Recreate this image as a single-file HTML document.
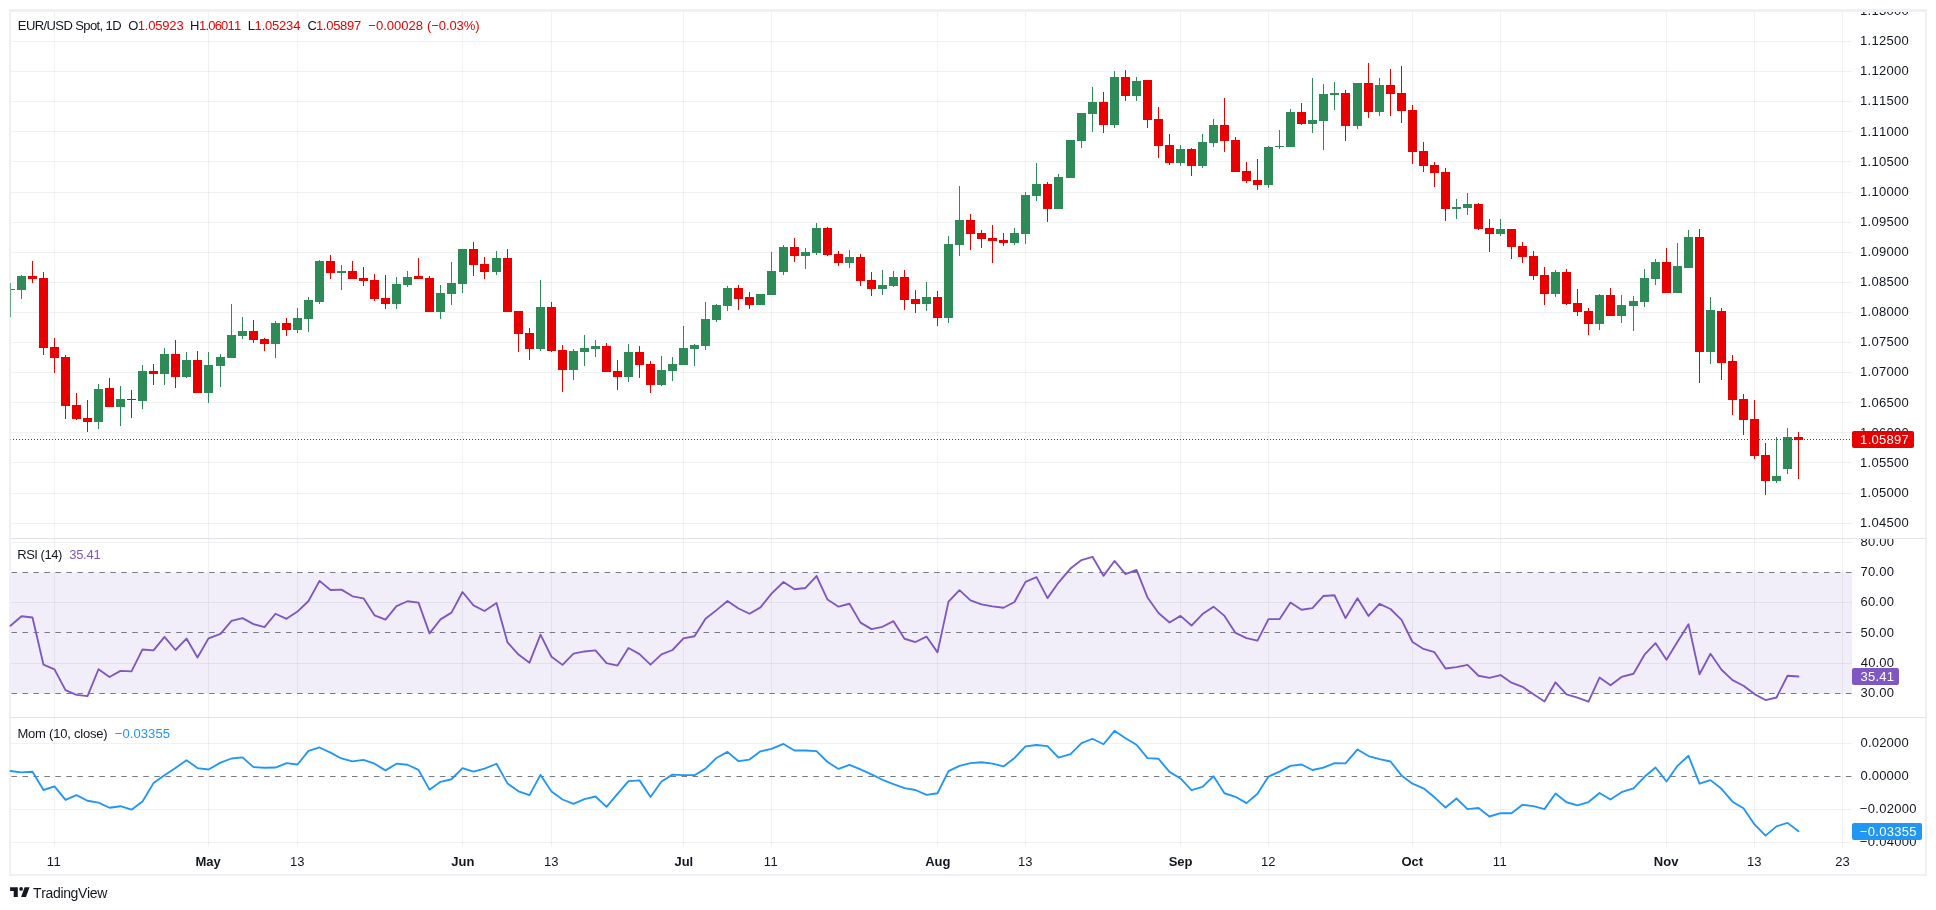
<!DOCTYPE html>
<html><head><meta charset="utf-8"><title>EUR/USD</title>
<style>html,body{margin:0;padding:0;background:#fff;}body{width:1936px;height:910px;overflow:hidden;}svg{display:block;will-change:transform;font-family:"Liberation Sans",sans-serif;font-kerning:none;}text{white-space:pre;}</style>
</head><body>
<svg width="1936" height="910" viewBox="0 0 1936 910">
<defs>
<clipPath id="cm"><rect x="1852" y="12" width="73" height="526"/></clipPath>
<clipPath id="cr"><rect x="1852" y="539" width="73" height="178"/></clipPath>
<clipPath id="co"><rect x="1852" y="718" width="73" height="128"/></clipPath>
</defs>
<rect width="1936" height="910" fill="#ffffff"/>
<rect x="11" y="572.5" width="1841" height="121" fill="#f1eef9"/>
<path d="M54.5 10V846.5M208.5 10V846.5M297.5 10V846.5M462.5 10V846.5M551.5 10V846.5M683.5 10V846.5M771.5 10V846.5M937.5 10V846.5M1025.5 10V846.5M1180.5 10V846.5M1268.5 10V846.5M1412.5 10V846.5M1500.5 10V846.5M1666.5 10V846.5M1754.5 10V846.5M1842.5 10V846.5" stroke="#2a2e39" stroke-opacity="0.065" stroke-width="1" fill="none" shape-rendering="crispEdges"/>
<path d="M11 41.5H1852M11 71.5H1852M11 101.5H1852M11 131.5H1852M11 161.5H1852M11 192.5H1852M11 222.5H1852M11 252.5H1852M11 282.5H1852M11 312.5H1852M11 342.5H1852M11 372.5H1852M11 402.5H1852M11 432.5H1852M11 462.5H1852M11 493.5H1852M11 523.5H1852M11 542.5H1852M11 602.5H1852M11 663.5H1852M11 743.5H1852M11 809.5H1852M11 842.5H1852" stroke="#2a2e39" stroke-opacity="0.065" stroke-width="1" fill="none" shape-rendering="crispEdges"/>
<path d="M11 538.5H1925M11 717.5H1925" stroke="#e0e3eb" stroke-width="1" fill="none" shape-rendering="crispEdges"/>
<path d="M11.45 572.5H1852" stroke="#787b86" stroke-width="1" stroke-dasharray="5.5 5.485" fill="none"/>
<path d="M10 572.5H11" stroke="#787b86" stroke-width="1" fill="none"/>
<path d="M11.45 632.5H1852" stroke="#787b86" stroke-width="1" stroke-dasharray="5.5 5.485" fill="none"/>
<path d="M10 632.5H11" stroke="#787b86" stroke-width="1" fill="none"/>
<path d="M11.45 693.5H1852" stroke="#787b86" stroke-width="1" stroke-dasharray="5.5 5.485" fill="none"/>
<path d="M10 693.5H11" stroke="#787b86" stroke-width="1" fill="none"/>
<path d="M11.45 776.5H1852" stroke="#787b86" stroke-width="1" stroke-dasharray="5.5 5.485" fill="none"/>
<path d="M10 776.5H11" stroke="#787b86" stroke-width="1" fill="none"/>
<path d="M9 9H1927V876H9Z M11 12H1925V874H11Z" fill="#eef0f5" fill-rule="evenodd"/>
<rect x="10" y="283" width="1" height="34" fill="#2e8b57" fill-opacity="0.7"/>
<path d="M11 289H15.0V290H11ZM17.0 276H26.0V290H17.0ZM21.0 275H22.0V276H21.0ZM21.0 290H22.0V299H21.0ZM94.0 389H103.0V422H94.0ZM98.0 384H99.0V389H98.0ZM98.0 422H99.0V429H98.0ZM116.0 399H125.0V407H116.0ZM120.0 386H121.0V399H120.0ZM120.0 407H121.0V426H120.0ZM138.0 371H147.0V401H138.0ZM142.0 365H143.0V371H142.0ZM142.0 401H143.0V409H142.0ZM160.0 354H169.0V374H160.0ZM164.0 348H165.0V354H164.0ZM164.0 374H165.0V385H164.0ZM182.0 360H191.0V377H182.0ZM186.0 352H187.0V360H186.0ZM186.0 377H187.0V378H186.0ZM204.0 365H213.0V393H204.0ZM208.0 352H209.0V365H208.0ZM208.0 393H209.0V403H208.0ZM216.0 357H225.0V366H216.0ZM220.0 354H221.0V357H220.0ZM220.0 366H221.0V387H220.0ZM227.0 335H236.0V358H227.0ZM231.0 304H232.0V335H231.0ZM238.0 331H247.0V336H238.0ZM242.0 317H243.0V331H242.0ZM242.0 336H243.0V339H242.0ZM271.0 323H280.0V344H271.0ZM275.0 321H276.0V323H275.0ZM275.0 344H276.0V358H275.0ZM293.0 318H302.0V330H293.0ZM297.0 308H298.0V318H297.0ZM297.0 330H298.0V333H297.0ZM304.0 300H313.0V319H304.0ZM308.0 297H309.0V300H308.0ZM308.0 319H309.0V332H308.0ZM315.0 261H324.0V302H315.0ZM319.0 260H320.0V261H319.0ZM319.0 302H320.0V304H319.0ZM337.0 271H346.0V273H337.0ZM341.0 265H342.0V271H341.0ZM341.0 273H342.0V290H341.0ZM392.0 284H401.0V304H392.0ZM396.0 277H397.0V284H396.0ZM396.0 304H397.0V309H396.0ZM403.0 277H412.0V285H403.0ZM407.0 271H408.0V277H407.0ZM407.0 285H408.0V287H407.0ZM436.0 293H445.0V312H436.0ZM440.0 285H441.0V293H440.0ZM440.0 312H441.0V319H440.0ZM447.0 283H456.0V294H447.0ZM451.0 262H452.0V283H451.0ZM451.0 294H452.0V305H451.0ZM458.0 249H467.0V284H458.0ZM462.0 284H463.0V293H462.0ZM492.0 258H501.0V272H492.0ZM496.0 251H497.0V258H496.0ZM496.0 272H497.0V275H496.0ZM536.0 307H545.0V349H536.0ZM540.0 280H541.0V307H540.0ZM540.0 349H541.0V351H540.0ZM569.0 351H578.0V370H569.0ZM573.0 349H574.0V351H573.0ZM573.0 370H574.0V380H573.0ZM580.0 348H589.0V352H580.0ZM584.0 335H585.0V348H584.0ZM584.0 352H585.0V366H584.0ZM591.0 346H600.0V349H591.0ZM595.0 340H596.0V346H595.0ZM595.0 349H596.0V357H595.0ZM624.0 352H633.0V377H624.0ZM628.0 344H629.0V352H628.0ZM628.0 377H629.0V382H628.0ZM657.0 370H666.0V385H657.0ZM661.0 356H662.0V370H661.0ZM661.0 385H662.0V386H661.0ZM668.0 364H677.0V371H668.0ZM672.0 357H673.0V364H672.0ZM672.0 371H673.0V381H672.0ZM679.0 348H688.0V365H679.0ZM683.0 326H684.0V348H683.0ZM690.0 345H699.0V349H690.0ZM694.0 344H695.0V345H694.0ZM694.0 349H695.0V366H694.0ZM701.0 319H710.0V346H701.0ZM705.0 302H706.0V319H705.0ZM705.0 346H706.0V350H705.0ZM712.0 305H721.0V320H712.0ZM716.0 304H717.0V305H716.0ZM716.0 320H717.0V322H716.0ZM723.0 288H732.0V306H723.0ZM727.0 286H728.0V288H727.0ZM727.0 306H728.0V311H727.0ZM756.0 294H765.0V305H756.0ZM767.0 271H776.0V295H767.0ZM771.0 252H772.0V271H771.0ZM779.0 247H788.0V272H779.0ZM783.0 245H784.0V247H783.0ZM783.0 272H784.0V275H783.0ZM801.0 252H810.0V256H801.0ZM805.0 248H806.0V252H805.0ZM805.0 256H806.0V269H805.0ZM812.0 228H821.0V253H812.0ZM816.0 223H817.0V228H816.0ZM816.0 253H817.0V255H816.0ZM845.0 257H854.0V263H845.0ZM849.0 250H850.0V257H849.0ZM849.0 263H850.0V268H849.0ZM878.0 285H887.0V289H878.0ZM882.0 270H883.0V285H882.0ZM882.0 289H883.0V295H882.0ZM889.0 277H898.0V286H889.0ZM893.0 271H894.0V277H893.0ZM893.0 286H894.0V287H893.0ZM922.0 297H931.0V304H922.0ZM926.0 282H927.0V297H926.0ZM926.0 304H927.0V311H926.0ZM944.0 244H953.0V318H944.0ZM948.0 236H949.0V244H948.0ZM948.0 318H949.0V323H948.0ZM955.0 220H964.0V245H955.0ZM959.0 186H960.0V220H959.0ZM959.0 245H960.0V256H959.0ZM1010.0 233H1019.0V243H1010.0ZM1014.0 228H1015.0V233H1014.0ZM1014.0 243H1015.0V245H1014.0ZM1021.0 195H1030.0V234H1021.0ZM1025.0 192H1026.0V195H1025.0ZM1025.0 234H1026.0V244H1025.0ZM1032.0 184H1041.0V196H1032.0ZM1036.0 163H1037.0V184H1036.0ZM1036.0 196H1037.0V201H1036.0ZM1054.0 177H1063.0V209H1054.0ZM1058.0 174H1059.0V177H1058.0ZM1066.0 140H1075.0V178H1066.0ZM1077.0 113H1086.0V141H1077.0ZM1081.0 141H1082.0V148H1081.0ZM1088.0 102H1097.0V114H1088.0ZM1092.0 87H1093.0V102H1092.0ZM1092.0 114H1093.0V132H1092.0ZM1110.0 77H1119.0V125H1110.0ZM1114.0 71H1115.0V77H1114.0ZM1114.0 125H1115.0V128H1114.0ZM1132.0 81H1141.0V96H1132.0ZM1136.0 77H1137.0V81H1136.0ZM1136.0 96H1137.0V101H1136.0ZM1176.0 149H1185.0V163H1176.0ZM1180.0 145H1181.0V149H1180.0ZM1180.0 163H1181.0V166H1180.0ZM1198.0 142H1207.0V166H1198.0ZM1202.0 134H1203.0V142H1202.0ZM1202.0 166H1203.0V168H1202.0ZM1209.0 125H1218.0V143H1209.0ZM1213.0 119H1214.0V125H1213.0ZM1213.0 143H1214.0V147H1213.0ZM1264.0 147H1273.0V185H1264.0ZM1268.0 146H1269.0V147H1268.0ZM1268.0 185H1269.0V188H1268.0ZM1275.0 146H1284.0V147H1275.0ZM1279.0 130H1280.0V146H1279.0ZM1279.0 147H1280.0V149H1279.0ZM1286.0 112H1295.0V147H1286.0ZM1290.0 109H1291.0V112H1290.0ZM1308.0 120H1317.0V124H1308.0ZM1312.0 78H1313.0V120H1312.0ZM1312.0 124H1313.0V133H1312.0ZM1319.0 94H1328.0V121H1319.0ZM1323.0 84H1324.0V94H1323.0ZM1323.0 121H1324.0V150H1323.0ZM1330.0 93H1339.0V95H1330.0ZM1334.0 82H1335.0V93H1334.0ZM1334.0 95H1335.0V110H1334.0ZM1353.0 83H1362.0V126H1353.0ZM1357.0 126H1358.0V129H1357.0ZM1375.0 85H1384.0V112H1375.0ZM1379.0 78H1380.0V85H1379.0ZM1379.0 112H1380.0V116H1379.0ZM1452.0 207H1461.0V209H1452.0ZM1456.0 199H1457.0V207H1456.0ZM1456.0 209H1457.0V219H1456.0ZM1463.0 204H1472.0V208H1463.0ZM1467.0 193H1468.0V204H1467.0ZM1467.0 208H1468.0V215H1467.0ZM1496.0 229H1505.0V234H1496.0ZM1500.0 219H1501.0V229H1500.0ZM1500.0 234H1501.0V236H1500.0ZM1551.0 272H1560.0V294H1551.0ZM1555.0 270H1556.0V272H1555.0ZM1555.0 294H1556.0V297H1555.0ZM1595.0 295H1604.0V324H1595.0ZM1599.0 294H1600.0V295H1599.0ZM1599.0 324H1600.0V330H1599.0ZM1617.0 305H1626.0V316H1617.0ZM1621.0 295H1622.0V305H1621.0ZM1621.0 316H1622.0V323H1621.0ZM1629.0 301H1638.0V306H1629.0ZM1633.0 296H1634.0V301H1633.0ZM1633.0 306H1634.0V331H1633.0ZM1640.0 278H1649.0V302H1640.0ZM1644.0 269H1645.0V278H1644.0ZM1644.0 302H1645.0V307H1644.0ZM1651.0 262H1660.0V279H1651.0ZM1655.0 259H1656.0V262H1655.0ZM1655.0 279H1656.0V285H1655.0ZM1673.0 266H1682.0V293H1673.0ZM1677.0 243H1678.0V266H1677.0ZM1684.0 237H1693.0V268H1684.0ZM1688.0 230H1689.0V237H1688.0ZM1706.0 310H1715.0V352H1706.0ZM1710.0 297H1711.0V310H1710.0ZM1710.0 352H1711.0V364H1710.0ZM1772.0 476H1781.0V481H1772.0ZM1776.0 437H1777.0V476H1776.0ZM1776.0 481H1777.0V483H1776.0ZM1783.0 437H1792.0V469H1783.0ZM1787.0 428H1788.0V437H1787.0ZM1787.0 469H1788.0V474H1787.0Z" fill="#2e8b57" shape-rendering="crispEdges"/>
<path d="M28.0 276H37.0V279H28.0ZM32.0 261H33.0V276H32.0ZM32.0 279H33.0V283H32.0ZM39.0 278H48.0V348H39.0ZM43.0 272H44.0V278H43.0ZM43.0 348H44.0V355H43.0ZM50.0 347H59.0V358H50.0ZM54.0 338H55.0V347H54.0ZM54.0 358H55.0V373H54.0ZM61.0 357H70.0V406H61.0ZM65.0 355H66.0V357H65.0ZM65.0 406H66.0V419H65.0ZM72.0 405H81.0V419H72.0ZM76.0 393H77.0V405H76.0ZM76.0 419H77.0V420H76.0ZM83.0 418H92.0V422H83.0ZM87.0 400H88.0V418H87.0ZM87.0 422H88.0V432H87.0ZM105.0 388H114.0V407H105.0ZM109.0 378H110.0V388H109.0ZM127.0 399H136.0V400H127.0ZM131.0 390H132.0V399H131.0ZM131.0 400H132.0V418H131.0ZM149.0 371H158.0V374H149.0ZM153.0 364H154.0V371H153.0ZM153.0 374H154.0V385H153.0ZM171.0 354H180.0V377H171.0ZM175.0 340H176.0V354H175.0ZM175.0 377H176.0V388H175.0ZM193.0 360H202.0V393H193.0ZM197.0 351H198.0V360H197.0ZM249.0 331H258.0V340H249.0ZM253.0 320H254.0V331H253.0ZM253.0 340H254.0V343H253.0ZM260.0 339H269.0V344H260.0ZM264.0 338H265.0V339H264.0ZM264.0 344H265.0V351H264.0ZM282.0 323H291.0V330H282.0ZM286.0 318H287.0V323H286.0ZM286.0 330H287.0V336H286.0ZM326.0 261H335.0V273H326.0ZM330.0 255H331.0V261H330.0ZM330.0 273H331.0V279H330.0ZM348.0 271H357.0V279H348.0ZM352.0 261H353.0V271H352.0ZM359.0 278H368.0V281H359.0ZM363.0 267H364.0V278H363.0ZM363.0 281H364.0V286H363.0ZM370.0 280H379.0V299H370.0ZM374.0 274H375.0V280H374.0ZM374.0 299H375.0V301H374.0ZM381.0 298H390.0V304H381.0ZM385.0 275H386.0V298H385.0ZM385.0 304H386.0V309H385.0ZM414.0 276H423.0V279H414.0ZM418.0 258H419.0V276H418.0ZM425.0 278H434.0V312H425.0ZM429.0 276H430.0V278H429.0ZM469.0 249H478.0V265H469.0ZM473.0 242H474.0V249H473.0ZM473.0 265H474.0V276H473.0ZM480.0 264H489.0V272H480.0ZM484.0 257H485.0V264H484.0ZM484.0 272H485.0V279H484.0ZM503.0 258H512.0V312H503.0ZM507.0 249H508.0V258H507.0ZM514.0 311H523.0V334H514.0ZM518.0 334H519.0V352H518.0ZM525.0 333H534.0V349H525.0ZM529.0 328H530.0V333H529.0ZM529.0 349H530.0V360H529.0ZM547.0 307H556.0V351H547.0ZM551.0 302H552.0V307H551.0ZM551.0 351H552.0V352H551.0ZM558.0 350H567.0V370H558.0ZM562.0 345H563.0V350H562.0ZM562.0 370H563.0V392H562.0ZM602.0 346H611.0V372H602.0ZM606.0 343H607.0V346H606.0ZM613.0 371H622.0V377H613.0ZM617.0 360H618.0V371H617.0ZM617.0 377H618.0V390H617.0ZM635.0 352H644.0V365H635.0ZM639.0 346H640.0V352H639.0ZM639.0 365H640.0V378H639.0ZM646.0 364H655.0V385H646.0ZM650.0 361H651.0V364H650.0ZM650.0 385H651.0V393H650.0ZM734.0 288H743.0V299H734.0ZM738.0 285H739.0V288H738.0ZM738.0 299H739.0V310H738.0ZM745.0 297H754.0V305H745.0ZM749.0 292H750.0V297H749.0ZM749.0 305H750.0V309H749.0ZM790.0 247H799.0V256H790.0ZM794.0 238H795.0V247H794.0ZM794.0 256H795.0V262H794.0ZM823.0 228H832.0V255H823.0ZM827.0 227H828.0V228H827.0ZM827.0 255H828.0V256H827.0ZM834.0 254H843.0V263H834.0ZM838.0 251H839.0V254H838.0ZM838.0 263H839.0V266H838.0ZM856.0 257H865.0V281H856.0ZM860.0 254H861.0V257H860.0ZM860.0 281H861.0V286H860.0ZM867.0 280H876.0V289H867.0ZM871.0 272H872.0V280H871.0ZM871.0 289H872.0V296H871.0ZM900.0 277H909.0V300H900.0ZM904.0 270H905.0V277H904.0ZM904.0 300H905.0V310H904.0ZM911.0 299H920.0V304H911.0ZM915.0 290H916.0V299H915.0ZM915.0 304H916.0V313H915.0ZM933.0 297H942.0V318H933.0ZM937.0 291H938.0V297H937.0ZM937.0 318H938.0V326H937.0ZM966.0 220H975.0V234H966.0ZM970.0 214H971.0V220H970.0ZM970.0 234H971.0V250H970.0ZM977.0 233H986.0V239H977.0ZM981.0 230H982.0V233H981.0ZM981.0 239H982.0V248H981.0ZM988.0 238H997.0V241H988.0ZM992.0 225H993.0V238H992.0ZM992.0 241H993.0V263H992.0ZM999.0 240H1008.0V243H999.0ZM1003.0 233H1004.0V240H1003.0ZM1003.0 243H1004.0V246H1003.0ZM1043.0 184H1052.0V209H1043.0ZM1047.0 182H1048.0V184H1047.0ZM1047.0 209H1048.0V222H1047.0ZM1099.0 102H1108.0V125H1099.0ZM1103.0 92H1104.0V102H1103.0ZM1103.0 125H1104.0V133H1103.0ZM1121.0 77H1130.0V96H1121.0ZM1125.0 70H1126.0V77H1125.0ZM1125.0 96H1126.0V101H1125.0ZM1143.0 80H1152.0V120H1143.0ZM1147.0 120H1148.0V128H1147.0ZM1154.0 119H1163.0V146H1154.0ZM1158.0 107H1159.0V119H1158.0ZM1158.0 146H1159.0V158H1158.0ZM1165.0 145H1174.0V163H1165.0ZM1169.0 134H1170.0V145H1169.0ZM1169.0 163H1170.0V165H1169.0ZM1187.0 149H1196.0V166H1187.0ZM1191.0 148H1192.0V149H1191.0ZM1191.0 166H1192.0V176H1191.0ZM1220.0 125H1229.0V141H1220.0ZM1224.0 98H1225.0V125H1224.0ZM1224.0 141H1225.0V152H1224.0ZM1231.0 140H1240.0V172H1231.0ZM1235.0 137H1236.0V140H1235.0ZM1242.0 171H1251.0V181H1242.0ZM1246.0 162H1247.0V171H1246.0ZM1246.0 181H1247.0V183H1246.0ZM1253.0 180H1262.0V185H1253.0ZM1257.0 159H1258.0V180H1257.0ZM1257.0 185H1258.0V190H1257.0ZM1297.0 112H1306.0V124H1297.0ZM1301.0 103H1302.0V112H1301.0ZM1301.0 124H1302.0V125H1301.0ZM1341.0 93H1350.0V126H1341.0ZM1345.0 90H1346.0V93H1345.0ZM1345.0 126H1346.0V141H1345.0ZM1364.0 83H1373.0V112H1364.0ZM1368.0 63H1369.0V83H1368.0ZM1368.0 112H1369.0V118H1368.0ZM1386.0 85H1395.0V94H1386.0ZM1390.0 69H1391.0V85H1390.0ZM1390.0 94H1391.0V116H1390.0ZM1397.0 93H1406.0V111H1397.0ZM1401.0 66H1402.0V93H1401.0ZM1401.0 111H1402.0V123H1401.0ZM1408.0 110H1417.0V152H1408.0ZM1412.0 105H1413.0V110H1412.0ZM1412.0 152H1413.0V164H1412.0ZM1419.0 151H1428.0V166H1419.0ZM1423.0 142H1424.0V151H1423.0ZM1423.0 166H1424.0V172H1423.0ZM1430.0 165H1439.0V173H1430.0ZM1434.0 162H1435.0V165H1434.0ZM1434.0 173H1435.0V187H1434.0ZM1441.0 172H1450.0V209H1441.0ZM1445.0 168H1446.0V172H1445.0ZM1445.0 209H1446.0V221H1445.0ZM1474.0 204H1483.0V229H1474.0ZM1478.0 203H1479.0V204H1478.0ZM1478.0 229H1479.0V230H1478.0ZM1485.0 228H1494.0V234H1485.0ZM1489.0 219H1490.0V228H1489.0ZM1489.0 234H1490.0V252H1489.0ZM1507.0 229H1516.0V247H1507.0ZM1511.0 247H1512.0V259H1511.0ZM1518.0 246H1527.0V257H1518.0ZM1522.0 242H1523.0V246H1522.0ZM1522.0 257H1523.0V263H1522.0ZM1529.0 256H1538.0V276H1529.0ZM1533.0 251H1534.0V256H1533.0ZM1533.0 276H1534.0V280H1533.0ZM1540.0 275H1549.0V294H1540.0ZM1544.0 267H1545.0V275H1544.0ZM1544.0 294H1545.0V305H1544.0ZM1562.0 272H1571.0V304H1562.0ZM1566.0 269H1567.0V272H1566.0ZM1566.0 304H1567.0V305H1566.0ZM1573.0 303H1582.0V312H1573.0ZM1577.0 289H1578.0V303H1577.0ZM1577.0 312H1578.0V316H1577.0ZM1584.0 311H1593.0V324H1584.0ZM1588.0 308H1589.0V311H1588.0ZM1588.0 324H1589.0V335H1588.0ZM1606.0 295H1615.0V316H1606.0ZM1610.0 288H1611.0V295H1610.0ZM1662.0 262H1671.0V293H1662.0ZM1666.0 248H1667.0V262H1666.0ZM1695.0 237H1704.0V352H1695.0ZM1699.0 229H1700.0V237H1699.0ZM1699.0 352H1700.0V383H1699.0ZM1717.0 311H1726.0V363H1717.0ZM1721.0 308H1722.0V311H1721.0ZM1721.0 363H1722.0V380H1721.0ZM1728.0 361H1737.0V400H1728.0ZM1732.0 355H1733.0V361H1732.0ZM1732.0 400H1733.0V415H1732.0ZM1739.0 399H1748.0V420H1739.0ZM1743.0 394H1744.0V399H1743.0ZM1743.0 420H1744.0V435H1743.0ZM1750.0 419H1759.0V456H1750.0ZM1754.0 400H1755.0V419H1754.0ZM1754.0 456H1755.0V459H1754.0ZM1761.0 455H1770.0V481H1761.0ZM1765.0 443H1766.0V455H1765.0ZM1765.0 481H1766.0V495H1765.0ZM1794.0 437H1803.0V440H1794.0ZM1798.0 432H1799.0V437H1798.0ZM1798.0 440H1799.0V479H1798.0Z" fill="#e60000" shape-rendering="crispEdges"/>
<path d="M13 439.5H1852" stroke="#e60000" stroke-width="1" stroke-dasharray="1 2" fill="none" shape-rendering="crispEdges"/>
<rect x="10" y="439" width="1" height="1" fill="#e60000" fill-opacity="0.35"/>
<polyline points="10.5,625.70 21.5,616.27 32.5,617.54 43.5,664.70 54.5,669.41 65.5,690.09 76.5,694.80 87.5,696.07 98.5,669.23 109.5,677.03 120.5,670.86 131.5,671.41 142.5,649.46 153.5,650.37 164.5,636.95 175.5,650.01 186.5,638.58 197.5,657.44 208.5,638.40 220.5,633.86 231.5,620.81 242.5,618.09 253.5,624.07 264.5,627.15 275.5,613.73 286.5,618.81 297.5,611.56 308.5,601.04 319.5,580.91 330.5,589.98 341.5,589.61 352.5,596.32 363.5,598.32 374.5,615.37 385.5,619.54 396.5,606.12 407.5,601.22 418.5,602.67 429.5,633.32 440.5,619.36 451.5,612.65 462.5,591.97 473.5,605.39 484.5,611.01 496.5,603.03 507.5,642.39 518.5,654.54 529.5,662.70 540.5,634.59 551.5,656.72 562.5,664.88 573.5,653.63 584.5,651.46 595.5,650.37 606.5,663.06 617.5,665.60 628.5,648.01 639.5,654.18 650.5,664.70 661.5,654.36 672.5,650.01 683.5,638.40 694.5,636.22 705.5,618.81 716.5,610.11 727.5,601.04 738.5,608.47 749.5,613.73 760.5,607.39 771.5,593.60 783.5,582.00 794.5,589.25 805.5,587.98 816.5,576.01 827.5,599.59 838.5,606.66 849.5,603.76 860.5,622.62 871.5,629.15 882.5,626.79 893.5,621.17 904.5,638.76 915.5,642.03 926.5,636.59 937.5,652.36 948.5,601.58 959.5,590.16 970.5,600.31 981.5,604.39 992.5,606.30 1003.5,607.75 1014.5,601.95 1025.5,581.82 1036.5,577.10 1047.5,598.14 1058.5,582.54 1070.5,568.58 1081.5,560.05 1092.5,556.79 1103.5,575.83 1114.5,560.96 1125.5,574.20 1136.5,569.85 1147.5,597.41 1158.5,613.01 1169.5,622.44 1180.5,615.91 1191.5,625.52 1202.5,614.10 1213.5,606.66 1224.5,615.91 1235.5,632.96 1246.5,638.04 1257.5,640.57 1268.5,619.17 1279.5,619.17 1290.5,602.49 1301.5,609.74 1312.5,608.11 1323.5,595.96 1334.5,595.24 1345.5,618.09 1357.5,598.32 1368.5,615.91 1379.5,603.94 1390.5,609.02 1401.5,619.90 1412.5,642.03 1423.5,648.92 1434.5,652.18 1445.5,668.50 1456.5,667.05 1467.5,664.88 1478.5,675.76 1489.5,677.93 1500.5,675.03 1511.5,682.65 1522.5,686.82 1533.5,694.26 1544.5,701.51 1555.5,682.29 1566.5,694.26 1577.5,697.70 1588.5,701.69 1599.5,677.57 1610.5,685.19 1621.5,676.94 1633.5,673.76 1644.5,654.72 1655.5,643.11 1666.5,659.80 1677.5,641.84 1688.5,624.25 1699.5,674.31 1710.5,653.81 1721.5,669.77 1732.5,680.11 1743.5,685.73 1754.5,694.08 1765.5,700.06 1776.5,697.52 1787.5,675.76 1798.5,676.48" fill="none" stroke="#7e57c2" stroke-width="1.85" stroke-linejoin="round" stroke-linecap="round"/>
<polyline points="10.5,771.02 21.5,772.42 32.5,771.72 43.5,790.00 54.5,786.37 65.5,799.90 76.5,795.16 87.5,800.74 98.5,802.69 109.5,807.72 120.5,806.23 131.5,809.66 142.5,801.58 153.5,783.12 164.5,775.32 175.5,768.03 186.5,760.14 197.5,768.11 208.5,769.51 220.5,762.61 231.5,758.50 242.5,757.38 253.5,767.13 264.5,767.78 275.5,767.54 286.5,763.18 297.5,764.50 308.5,750.86 319.5,747.49 330.5,752.64 341.5,758.47 352.5,761.43 363.5,759.81 374.5,763.68 385.5,770.41 396.5,763.68 407.5,764.74 418.5,769.89 429.5,789.64 440.5,781.86 451.5,779.23 462.5,768.14 473.5,771.65 484.5,768.61 496.5,763.76 507.5,783.39 518.5,791.28 529.5,795.17 540.5,774.93 551.5,791.53 562.5,799.50 573.5,803.88 584.5,799.03 595.5,796.51 606.5,806.89 617.5,793.83 628.5,781.20 639.5,780.38 650.5,797.06 661.5,781.48 672.5,774.66 683.5,775.18 694.5,775.18 705.5,768.63 716.5,757.95 727.5,751.87 738.5,761.21 749.5,759.57 760.5,751.35 771.5,748.94 783.5,743.93 794.5,750.50 805.5,750.53 816.5,751.08 827.5,762.01 838.5,768.91 849.5,764.83 860.5,769.43 871.5,774.36 882.5,779.78 893.5,784.22 904.5,788.08 915.5,789.97 926.5,794.90 937.5,793.25 948.5,771.04 959.5,765.84 970.5,763.16 981.5,762.28 992.5,763.68 1003.5,766.44 1014.5,757.90 1025.5,746.42 1036.5,745.03 1047.5,746.12 1058.5,757.65 1070.5,754.09 1081.5,743.14 1092.5,738.76 1103.5,744.23 1114.5,730.81 1125.5,738.21 1136.5,744.75 1147.5,758.20 1158.5,758.77 1169.5,771.86 1180.5,778.46 1191.5,790.21 1202.5,786.95 1213.5,776.27 1224.5,793.25 1235.5,796.81 1246.5,803.11 1257.5,793.83 1268.5,776.55 1279.5,771.65 1290.5,765.89 1301.5,764.50 1312.5,769.98 1323.5,767.54 1334.5,763.10 1345.5,763.40 1357.5,749.46 1368.5,756.04 1379.5,759.05 1390.5,761.51 1401.5,775.40 1412.5,783.70 1423.5,788.32 1434.5,797.33 1445.5,807.52 1456.5,798.54 1467.5,809.14 1478.5,807.99 1489.5,816.50 1500.5,813.22 1511.5,813.27 1522.5,804.81 1533.5,806.18 1544.5,809.11 1555.5,793.50 1566.5,802.24 1577.5,805.28 1588.5,802.02 1599.5,792.98 1610.5,799.55 1621.5,792.16 1633.5,788.27 1644.5,776.79 1655.5,767.54 1666.5,781.50 1677.5,765.84 1688.5,755.79 1699.5,783.70 1710.5,780.11 1721.5,788.84 1732.5,801.72 1743.5,808.29 1754.5,824.45 1765.5,835.65 1776.5,826.36 1787.5,822.88 1798.5,831.26" fill="none" stroke="#2196f3" stroke-width="1.85" stroke-linejoin="round" stroke-linecap="round"/>
<g clip-path="url(#cm)">
<text x="1860.11" y="15.00" font-size="13" fill="#131722" letter-spacing="0.265">1.13000</text>
<text x="1860.11" y="45.00" font-size="13" fill="#131722" letter-spacing="0.265">1.12500</text>
<text x="1860.11" y="75.00" font-size="13" fill="#131722" letter-spacing="0.265">1.12000</text>
<text x="1860.11" y="105.00" font-size="13" fill="#131722" letter-spacing="0.265">1.11500</text>
<text x="1860.11" y="136.00" font-size="13" fill="#131722" letter-spacing="0.265">1.11000</text>
<text x="1860.11" y="166.00" font-size="13" fill="#131722" letter-spacing="0.265">1.10500</text>
<text x="1860.11" y="196.00" font-size="13" fill="#131722" letter-spacing="0.265">1.10000</text>
<text x="1860.11" y="226.00" font-size="13" fill="#131722" letter-spacing="0.265">1.09500</text>
<text x="1860.11" y="256.00" font-size="13" fill="#131722" letter-spacing="0.265">1.09000</text>
<text x="1860.11" y="286.00" font-size="13" fill="#131722" letter-spacing="0.265">1.08500</text>
<text x="1860.11" y="316.00" font-size="13" fill="#131722" letter-spacing="0.265">1.08000</text>
<text x="1860.11" y="346.00" font-size="13" fill="#131722" letter-spacing="0.265">1.07500</text>
<text x="1860.11" y="376.00" font-size="13" fill="#131722" letter-spacing="0.265">1.07000</text>
<text x="1860.11" y="407.00" font-size="13" fill="#131722" letter-spacing="0.265">1.06500</text>
<text x="1860.11" y="437.00" font-size="13" fill="#131722" letter-spacing="0.265">1.06000</text>
<text x="1860.11" y="467.00" font-size="13" fill="#131722" letter-spacing="0.265">1.05500</text>
<text x="1860.11" y="497.00" font-size="13" fill="#131722" letter-spacing="0.265">1.05000</text>
<text x="1860.11" y="527.00" font-size="13" fill="#131722" letter-spacing="0.265">1.04500</text>
</g>
<g clip-path="url(#cr)">
<text x="1860.54" y="546.00" font-size="13" fill="#131722" letter-spacing="0.206">80.00</text>
<text x="1860.44" y="576.00" font-size="13" fill="#131722" letter-spacing="0.232">70.00</text>
<text x="1860.45" y="606.00" font-size="13" fill="#131722" letter-spacing="0.229">60.00</text>
<text x="1860.58" y="637.00" font-size="13" fill="#131722" letter-spacing="0.196">50.00</text>
<text x="1860.81" y="667.00" font-size="13" fill="#131722" letter-spacing="0.138">40.00</text>
<text x="1860.61" y="697.00" font-size="13" fill="#131722" letter-spacing="0.190">30.00</text>
</g>
<g clip-path="url(#co)">
<text x="1860.59" y="747.00" font-size="13" fill="#131722" letter-spacing="0.185">0.02000</text>
<text x="1860.59" y="780.00" font-size="13" fill="#131722" letter-spacing="0.185">0.00000</text>
<text x="1859.86" y="813.00" font-size="13" fill="#131722" letter-spacing="0.293">−0.02000</text>
<text x="1859.86" y="846.00" font-size="13" fill="#131722" letter-spacing="0.293">−0.04000</text>
</g>
<rect x="1852" y="431" width="62" height="17" rx="2" fill="#e60000"/>
<text x="1860.11" y="444.00" font-size="13" fill="#ffffff" letter-spacing="0.291">1.05897</text>
<rect x="1852" y="668" width="47" height="17" rx="2" fill="#7e57c2"/>
<text x="1860.61" y="681.00" font-size="13" fill="#ffffff" letter-spacing="0.222">35.41</text>
<rect x="1852" y="823" width="70" height="17" rx="2" fill="#2196f3"/>
<text x="1859.86" y="836.00" font-size="13" fill="#ffffff" letter-spacing="0.298">−0.03355</text>
<text x="46.81" y="866.00" font-size="13" fill="#131722" letter-spacing="-0.646">11</text>
<text x="195.46" y="866.00" font-size="13" fill="#131722" letter-spacing="0.000" font-weight="bold">May</text>
<text x="290.06" y="866.00" font-size="13" fill="#131722" letter-spacing="0.000">13</text>
<text x="451.25" y="866.00" font-size="13" fill="#131722" letter-spacing="0.000" font-weight="bold">Jun</text>
<text x="544.06" y="866.00" font-size="13" fill="#131722" letter-spacing="0.000">13</text>
<text x="674.46" y="866.00" font-size="13" fill="#131722" letter-spacing="0.000" font-weight="bold">Jul</text>
<text x="763.81" y="866.00" font-size="13" fill="#131722" letter-spacing="-0.646">11</text>
<text x="925.14" y="866.00" font-size="13" fill="#131722" letter-spacing="0.000" font-weight="bold">Aug</text>
<text x="1018.06" y="866.00" font-size="13" fill="#131722" letter-spacing="0.000">13</text>
<text x="1168.66" y="866.00" font-size="13" fill="#131722" letter-spacing="0.000" font-weight="bold">Sep</text>
<text x="1261.10" y="866.00" font-size="13" fill="#131722" letter-spacing="0.000">12</text>
<text x="1401.48" y="866.00" font-size="13" fill="#131722" letter-spacing="0.000" font-weight="bold">Oct</text>
<text x="1492.81" y="866.00" font-size="13" fill="#131722" letter-spacing="-0.646">11</text>
<text x="1653.82" y="866.00" font-size="13" fill="#131722" letter-spacing="0.000" font-weight="bold">Nov</text>
<text x="1747.06" y="866.00" font-size="13" fill="#131722" letter-spacing="0.000">13</text>
<text x="1835.23" y="866.00" font-size="13" fill="#131722" letter-spacing="0.000">23</text>
<text x="17.83" y="30.00" font-size="13" fill="#131722" letter-spacing="-0.595">EUR/USD Spot, 1D</text>
<text x="128.14" y="30.00" font-size="13" fill="#131722" letter-spacing="0.000">O</text>
<text x="137.76" y="30.00" font-size="13" fill="#e60000" letter-spacing="-0.182">1.05923</text>
<text x="189.93" y="30.00" font-size="13" fill="#131722" letter-spacing="0.000">H</text>
<text x="199.01" y="30.00" font-size="13" fill="#e60000" letter-spacing="-0.796">1.06011</text>
<text x="247.68" y="30.00" font-size="13" fill="#131722" letter-spacing="0.000">L</text>
<text x="254.61" y="30.00" font-size="13" fill="#e60000" letter-spacing="-0.204">1.05234</text>
<text x="307.45" y="30.00" font-size="13" fill="#131722" letter-spacing="0.000">C</text>
<text x="315.91" y="30.00" font-size="13" fill="#e60000" letter-spacing="-0.275">1.05897</text>
<text x="368.36" y="30.00" font-size="13" fill="#e60000" letter-spacing="0.016">−0.00028</text>
<text x="427.09" y="30.00" font-size="13" fill="#e60000" letter-spacing="-0.093">(−0.03%)</text>
<text x="17.23" y="559.00" font-size="13" fill="#131722" letter-spacing="-0.476">RSI (14)</text>
<text x="69.21" y="559.00" font-size="13" fill="#7e57c2" letter-spacing="-0.278">35.41</text>
<text x="17.48" y="738.00" font-size="13" fill="#131722" letter-spacing="-0.226">Mom (10, close)</text>
<text x="114.86" y="738.00" font-size="13" fill="#2196f3" letter-spacing="0.070">−0.03355</text>
<g fill="#131722"><path d="M10.1 887.2H17.8V897H13.7V891.1H10.1Z"/><circle cx="21.1" cy="888.9" r="1.85"/><path d="M24.6 887.2H29.5L26 897H21.1Z"/></g>
<text x="32.99" y="897.90" font-size="14" fill="#131722" letter-spacing="-0.345">TradingView</text>
</svg>
</body></html>
